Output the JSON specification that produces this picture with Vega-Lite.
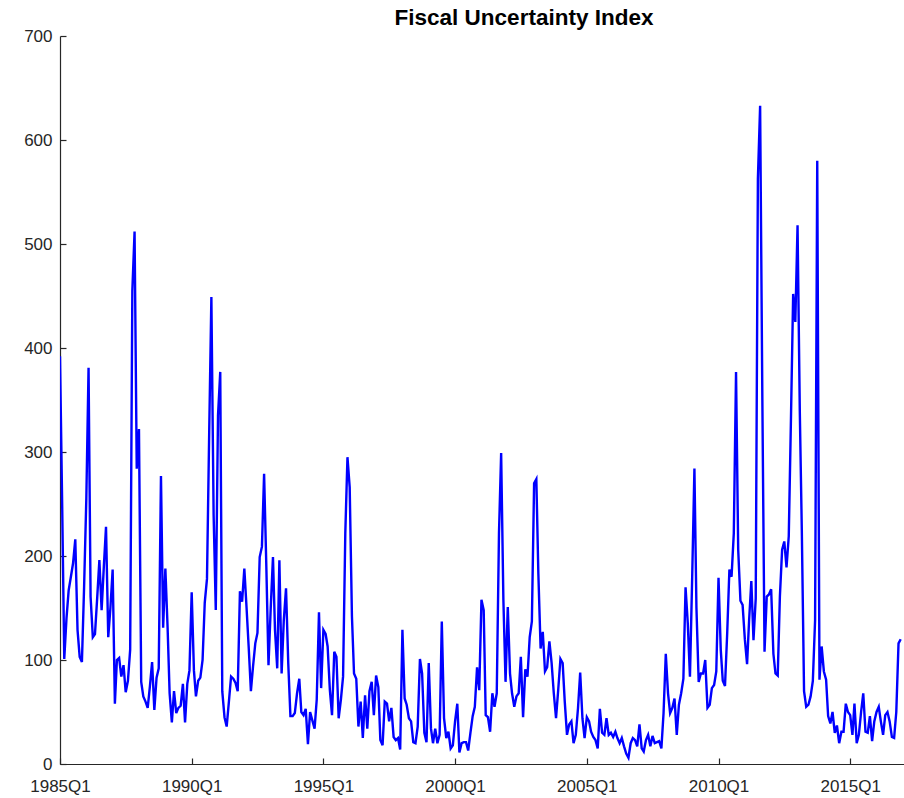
{
"$schema": "https://vega.github.io/schema/vega-lite/v6.json",
"width": 844, "height": 728,
"autosize": {"type": "none"},
"padding": {"left": 60, "top": 36, "right": 0, "bottom": 34},
"background": "white",
"config": {"view": {"stroke": null}, "font": "Liberation Sans"},
"title": {"text": "Fiscal Uncertainty Index", "fontSize": 22.5, "fontWeight": "bold", "font": "Liberation Sans", "color": "#000000", "anchor": "middle", "dx": 42, "offset": -2},
"data": {"values": [
{"date":"1985-01","value":392},{"date":"1985-02","value":245},{"date":"1985-03","value":101},{"date":"1985-04","value":140},{"date":"1985-05","value":167},{"date":"1985-06","value":180},{"date":"1985-07","value":193},{"date":"1985-08","value":216},{"date":"1985-09","value":129},{"date":"1985-10","value":103},{"date":"1985-11","value":98},{"date":"1985-12","value":170},
{"date":"1986-01","value":255},{"date":"1986-02","value":381},{"date":"1986-03","value":161},{"date":"1986-04","value":122},{"date":"1986-05","value":125},{"date":"1986-06","value":160},{"date":"1986-07","value":196},{"date":"1986-08","value":148},{"date":"1986-09","value":190},{"date":"1986-10","value":228},{"date":"1986-11","value":122},{"date":"1986-12","value":150},
{"date":"1987-01","value":187},{"date":"1987-02","value":58},{"date":"1987-03","value":100},{"date":"1987-04","value":102},{"date":"1987-05","value":84},{"date":"1987-06","value":95},{"date":"1987-07","value":69},{"date":"1987-08","value":80},{"date":"1987-09","value":110},{"date":"1987-10","value":455},{"date":"1987-11","value":512},{"date":"1987-12","value":284},
{"date":"1988-01","value":322},{"date":"1988-02","value":79},{"date":"1988-03","value":65},{"date":"1988-04","value":60},{"date":"1988-05","value":54},{"date":"1988-06","value":75},{"date":"1988-07","value":98},{"date":"1988-08","value":52},{"date":"1988-09","value":83},{"date":"1988-10","value":92},{"date":"1988-11","value":277},{"date":"1988-12","value":131},
{"date":"1989-01","value":188},{"date":"1989-02","value":131},{"date":"1989-03","value":68},{"date":"1989-04","value":40},{"date":"1989-05","value":70},{"date":"1989-06","value":49},{"date":"1989-07","value":54},{"date":"1989-08","value":56},{"date":"1989-09","value":77},{"date":"1989-10","value":40},{"date":"1989-11","value":77},{"date":"1989-12","value":90},
{"date":"1990-01","value":165},{"date":"1990-02","value":90},{"date":"1990-03","value":65},{"date":"1990-04","value":80},{"date":"1990-05","value":83},{"date":"1990-06","value":100},{"date":"1990-07","value":155},{"date":"1990-08","value":178},{"date":"1990-09","value":320},{"date":"1990-10","value":449},{"date":"1990-11","value":240},{"date":"1990-12","value":148},
{"date":"1991-01","value":335},{"date":"1991-02","value":377},{"date":"1991-03","value":70},{"date":"1991-04","value":45},{"date":"1991-05","value":36},{"date":"1991-06","value":60},{"date":"1991-07","value":84},{"date":"1991-08","value":82},{"date":"1991-09","value":78},{"date":"1991-10","value":70},{"date":"1991-11","value":166},{"date":"1991-12","value":156},
{"date":"1992-01","value":188},{"date":"1992-02","value":150},{"date":"1992-03","value":113},{"date":"1992-04","value":70},{"date":"1992-05","value":94},{"date":"1992-06","value":116},{"date":"1992-07","value":126},{"date":"1992-08","value":199},{"date":"1992-09","value":209},{"date":"1992-10","value":279},{"date":"1992-11","value":190},{"date":"1992-12","value":95},
{"date":"1993-01","value":150},{"date":"1993-02","value":199},{"date":"1993-03","value":129},{"date":"1993-04","value":92},{"date":"1993-05","value":196},{"date":"1993-06","value":87},{"date":"1993-07","value":138},{"date":"1993-08","value":169},{"date":"1993-09","value":97},{"date":"1993-10","value":46},{"date":"1993-11","value":46},{"date":"1993-12","value":49},
{"date":"1994-01","value":68},{"date":"1994-02","value":82},{"date":"1994-03","value":50},{"date":"1994-04","value":47},{"date":"1994-05","value":53},{"date":"1994-06","value":19},{"date":"1994-07","value":50},{"date":"1994-08","value":42},{"date":"1994-09","value":34},{"date":"1994-10","value":62},{"date":"1994-11","value":146},{"date":"1994-12","value":73},
{"date":"1995-01","value":129},{"date":"1995-02","value":125},{"date":"1995-03","value":113},{"date":"1995-04","value":71},{"date":"1995-05","value":47},{"date":"1995-06","value":108},{"date":"1995-07","value":103},{"date":"1995-08","value":44},{"date":"1995-09","value":62},{"date":"1995-10","value":84},{"date":"1995-11","value":222},{"date":"1995-12","value":295},
{"date":"1996-01","value":266},{"date":"1996-02","value":142},{"date":"1996-03","value":87},{"date":"1996-04","value":82},{"date":"1996-05","value":36},{"date":"1996-06","value":60},{"date":"1996-07","value":25},{"date":"1996-08","value":66},{"date":"1996-09","value":34},{"date":"1996-10","value":70},{"date":"1996-11","value":79},{"date":"1996-12","value":47},
{"date":"1997-01","value":85},{"date":"1997-02","value":74},{"date":"1997-03","value":23},{"date":"1997-04","value":18},{"date":"1997-05","value":60},{"date":"1997-06","value":58},{"date":"1997-07","value":41},{"date":"1997-08","value":54},{"date":"1997-09","value":26},{"date":"1997-10","value":23},{"date":"1997-11","value":25},{"date":"1997-12","value":14},
{"date":"1998-01","value":129},{"date":"1998-02","value":63},{"date":"1998-03","value":57},{"date":"1998-04","value":44},{"date":"1998-05","value":41},{"date":"1998-06","value":21},{"date":"1998-07","value":20},{"date":"1998-08","value":36},{"date":"1998-09","value":101},{"date":"1998-10","value":87},{"date":"1998-11","value":30},{"date":"1998-12","value":21},
{"date":"1999-01","value":97},{"date":"1999-02","value":34},{"date":"1999-03","value":20},{"date":"1999-04","value":34},{"date":"1999-05","value":20},{"date":"1999-06","value":28},{"date":"1999-07","value":137},{"date":"1999-08","value":44},{"date":"1999-09","value":25},{"date":"1999-10","value":31},{"date":"1999-11","value":15},{"date":"1999-12","value":18},
{"date":"2000-01","value":41},{"date":"2000-02","value":58},{"date":"2000-03","value":11},{"date":"2000-04","value":20},{"date":"2000-05","value":21},{"date":"2000-06","value":21},{"date":"2000-07","value":13},{"date":"2000-08","value":30},{"date":"2000-09","value":46},{"date":"2000-10","value":55},{"date":"2000-11","value":93},{"date":"2000-12","value":71},
{"date":"2001-01","value":158},{"date":"2001-02","value":148},{"date":"2001-03","value":47},{"date":"2001-04","value":45},{"date":"2001-05","value":31},{"date":"2001-06","value":68},{"date":"2001-07","value":55},{"date":"2001-08","value":68},{"date":"2001-09","value":222},{"date":"2001-10","value":299},{"date":"2001-11","value":158},{"date":"2001-12","value":79},
{"date":"2002-01","value":151},{"date":"2002-02","value":87},{"date":"2002-03","value":68},{"date":"2002-04","value":55},{"date":"2002-05","value":65},{"date":"2002-06","value":68},{"date":"2002-07","value":103},{"date":"2002-08","value":45},{"date":"2002-09","value":91},{"date":"2002-10","value":84},{"date":"2002-11","value":122},{"date":"2002-12","value":137},
{"date":"2003-01","value":270},{"date":"2003-02","value":274},{"date":"2003-03","value":183},{"date":"2003-04","value":111},{"date":"2003-05","value":127},{"date":"2003-06","value":89},{"date":"2003-07","value":93},{"date":"2003-08","value":118},{"date":"2003-09","value":97},{"date":"2003-10","value":68},{"date":"2003-11","value":44},{"date":"2003-12","value":71},
{"date":"2004-01","value":101},{"date":"2004-02","value":97},{"date":"2004-03","value":60},{"date":"2004-04","value":28},{"date":"2004-05","value":38},{"date":"2004-06","value":41},{"date":"2004-07","value":20},{"date":"2004-08","value":28},{"date":"2004-09","value":54},{"date":"2004-10","value":88},{"date":"2004-11","value":44},{"date":"2004-12","value":25},
{"date":"2005-01","value":45},{"date":"2005-02","value":41},{"date":"2005-03","value":31},{"date":"2005-04","value":26},{"date":"2005-05","value":23},{"date":"2005-06","value":15},{"date":"2005-07","value":53},{"date":"2005-08","value":30},{"date":"2005-09","value":28},{"date":"2005-10","value":44},{"date":"2005-11","value":28},{"date":"2005-12","value":30},
{"date":"2006-01","value":26},{"date":"2006-02","value":31},{"date":"2006-03","value":25},{"date":"2006-04","value":20},{"date":"2006-05","value":25},{"date":"2006-06","value":17},{"date":"2006-07","value":10},{"date":"2006-08","value":6},{"date":"2006-09","value":20},{"date":"2006-10","value":25},{"date":"2006-11","value":23},{"date":"2006-12","value":17},
{"date":"2007-01","value":38},{"date":"2007-02","value":15},{"date":"2007-03","value":12},{"date":"2007-04","value":23},{"date":"2007-05","value":28},{"date":"2007-06","value":17},{"date":"2007-07","value":27},{"date":"2007-08","value":20},{"date":"2007-09","value":21},{"date":"2007-10","value":22},{"date":"2007-11","value":15},{"date":"2007-12","value":49},
{"date":"2008-01","value":106},{"date":"2008-02","value":68},{"date":"2008-03","value":49},{"date":"2008-04","value":54},{"date":"2008-05","value":63},{"date":"2008-06","value":28},{"date":"2008-07","value":57},{"date":"2008-08","value":68},{"date":"2008-09","value":82},{"date":"2008-10","value":170},{"date":"2008-11","value":135},{"date":"2008-12","value":84},
{"date":"2009-01","value":180},{"date":"2009-02","value":284},{"date":"2009-03","value":150},{"date":"2009-04","value":79},{"date":"2009-05","value":87},{"date":"2009-06","value":87},{"date":"2009-07","value":100},{"date":"2009-08","value":54},{"date":"2009-09","value":57},{"date":"2009-10","value":73},{"date":"2009-11","value":76},{"date":"2009-12","value":89},
{"date":"2010-01","value":179},{"date":"2010-02","value":110},{"date":"2010-03","value":80},{"date":"2010-04","value":75},{"date":"2010-05","value":125},{"date":"2010-06","value":187},{"date":"2010-07","value":180},{"date":"2010-08","value":222},{"date":"2010-09","value":377},{"date":"2010-10","value":206},{"date":"2010-11","value":157},{"date":"2010-12","value":153},
{"date":"2011-01","value":120},{"date":"2011-02","value":96},{"date":"2011-03","value":138},{"date":"2011-04","value":176},{"date":"2011-05","value":119},{"date":"2011-06","value":159},{"date":"2011-07","value":563},{"date":"2011-08","value":633},{"date":"2011-09","value":350},{"date":"2011-10","value":108},{"date":"2011-11","value":161},{"date":"2011-12","value":163},
{"date":"2012-01","value":168},{"date":"2012-02","value":106},{"date":"2012-03","value":87},{"date":"2012-04","value":85},{"date":"2012-05","value":161},{"date":"2012-06","value":206},{"date":"2012-07","value":214},{"date":"2012-08","value":189},{"date":"2012-09","value":219},{"date":"2012-10","value":330},{"date":"2012-11","value":452},{"date":"2012-12","value":425},
{"date":"2013-01","value":518},{"date":"2013-02","value":340},{"date":"2013-03","value":225},{"date":"2013-04","value":70},{"date":"2013-05","value":55},{"date":"2013-06","value":57},{"date":"2013-07","value":65},{"date":"2013-08","value":80},{"date":"2013-09","value":138},{"date":"2013-10","value":580},{"date":"2013-11","value":81},{"date":"2013-12","value":113},
{"date":"2014-01","value":89},{"date":"2014-02","value":81},{"date":"2014-03","value":46},{"date":"2014-04","value":39},{"date":"2014-05","value":50},{"date":"2014-06","value":30},{"date":"2014-07","value":37},{"date":"2014-08","value":20},{"date":"2014-09","value":31},{"date":"2014-10","value":31},{"date":"2014-11","value":58},{"date":"2014-12","value":50},
{"date":"2015-01","value":47},{"date":"2015-02","value":28},{"date":"2015-03","value":58},{"date":"2015-04","value":20},{"date":"2015-05","value":28},{"date":"2015-06","value":50},{"date":"2015-07","value":68},{"date":"2015-08","value":31},{"date":"2015-09","value":30},{"date":"2015-10","value":46},{"date":"2015-11","value":22},{"date":"2015-12","value":41},
{"date":"2016-01","value":50},{"date":"2016-02","value":55},{"date":"2016-03","value":41},{"date":"2016-04","value":28},{"date":"2016-05","value":47},{"date":"2016-06","value":50},{"date":"2016-07","value":41},{"date":"2016-08","value":26},{"date":"2016-09","value":25},{"date":"2016-10","value":50},{"date":"2016-11","value":116},{"date":"2016-12","value":120}
]},
"mark": {"type": "line", "color": "#0000ff", "strokeWidth": 2.4, "clip": true},
"encoding": {
  "x": {"field": "date", "type": "temporal",
    "scale": {"type": "utc", "domain": [{"year": 1985, "month": 1, "date": 1, "utc": true}, {"year": 2017, "month": 1, "date": 16, "utc": true}]},
    "axis": {"title": null, "grid": false,
      "values": [{"year": 1985, "month": 1, "date": 1, "utc": true}, {"year": 1990, "month": 1, "date": 1, "utc": true}, {"year": 1995, "month": 1, "date": 1, "utc": true}, {"year": 2000, "month": 1, "date": 1, "utc": true}, {"year": 2005, "month": 1, "date": 1, "utc": true}, {"year": 2010, "month": 1, "date": 1, "utc": true}, {"year": 2015, "month": 1, "date": 1, "utc": true}],
      "labelExpr": "utcFormat(datum.value, '%Y') + 'Q1'",
      "labelFlush": false, "labelOverlap": false,
      "labelFont": "Liberation Sans", "labelFontSize": 17, "labelColor": "#262626",
      "domainColor": "#262626", "domainWidth": 1.2, "tickColor": "#262626", "tickWidth": 1.2, "tickSize": -6, "labelPadding": 20}},
  "y": {"field": "value", "type": "quantitative",
    "scale": {"domain": [0, 700], "nice": false},
    "axis": {"title": null, "grid": false, "values": [0, 100, 200, 300, 400, 500, 600, 700],
      "labelFont": "Liberation Sans", "labelFontSize": 17, "labelColor": "#262626",
      "domainColor": "#262626", "domainWidth": 1.2, "tickColor": "#262626", "tickWidth": 1.2, "tickSize": -6, "labelPadding": 14}}
}
}
